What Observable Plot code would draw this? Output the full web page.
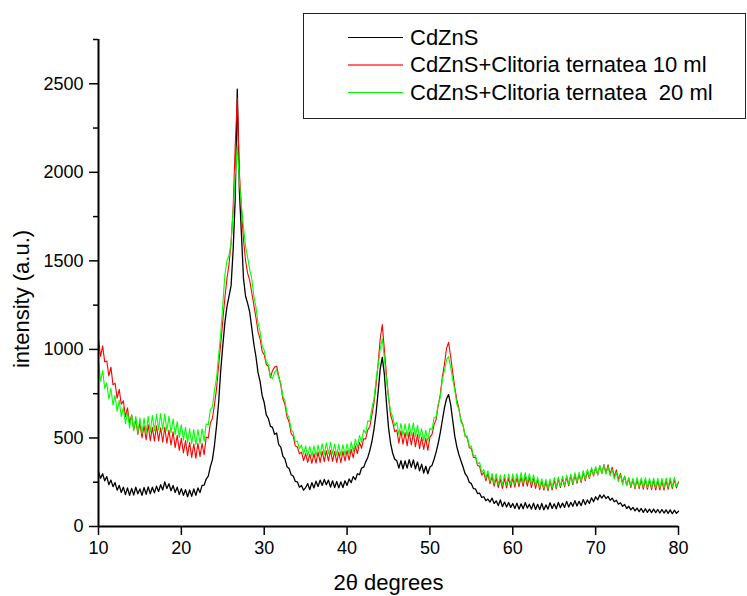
<!DOCTYPE html>
<html><head><meta charset="utf-8">
<script src="https://cdn.jsdelivr.net/npm/d3@7"></script>
<script src="https://cdn.jsdelivr.net/npm/@observablehq/plot@0.6"></script>
<style>
body{margin:0;background:#fff;font-family:"Liberation Sans",Arial,sans-serif;}
#wrap{position:relative;width:747px;height:596px;overflow:hidden;background:#fff;}
#legend{position:absolute;left:303px;top:13px;width:441px;height:104px;border:1.5px solid #222;background:#fff;}
.row{position:absolute;left:0;width:100%;height:0;}
.row .ln{position:absolute;left:44px;width:55px;top:-1px;}
.row span{position:absolute;left:106px;top:-13px;font-size:22px;line-height:26px;white-space:pre;color:#000;}
</style>
</head><body>
<div id="wrap"><div id="chart"></div><div id="legend"></div></div>
<script>
// scan grid: 2θ from 10° to 80° in 0.25° steps (one line = one degree)
const startAngle = 10;
const stepAngle = 0.25;

const cdzns = [
310, 272, 298, 258,
282, 236, 262, 225,
248, 205, 232, 192,
222, 180, 218, 176,
215, 178, 222, 185,
212, 176, 220, 182,
224, 185, 222, 190,
228, 198, 236, 206,
252, 214, 242, 202,
232, 192, 222, 180,
214, 176, 208, 168,
206, 170, 212, 176,
218, 192, 232, 234,
268, 284, 338, 378,
460, 570, 700, 880,
1020, 1150, 1240, 1300,
1360, 1560, 1850, 2470,
1900, 1650, 1400, 1300,
1260, 1210, 1120, 1030,
960, 870, 820, 740,
700, 630, 610, 565,
560, 520, 528, 462,
448, 398, 382, 338,
328, 292, 285, 255,
252, 222, 232, 205,
220, 242, 208, 248,
218, 256, 226, 262,
232, 266, 236, 262,
222, 258, 220, 254,
218, 252, 220, 258,
232, 268, 248, 282,
264, 298, 292, 330,
335, 365, 390, 430,
480, 550, 640, 760,
890, 955, 860, 700,
560, 470, 415, 380,
372, 330, 372, 326,
370, 330, 378, 334,
376, 326, 364, 314,
352, 302, 340, 298,
336, 345, 380, 420,
470, 530, 600, 670,
720, 745, 690, 600,
510, 450, 405, 370,
336, 298, 282, 250,
242, 214, 212, 186,
188, 164, 168, 146,
155, 138, 160, 130,
145, 118, 150, 112,
138, 110, 135, 108,
130, 102, 132, 98,
128, 100, 135, 104,
126, 98, 132, 96,
125, 96, 130, 94,
122, 98, 134, 102,
128, 100, 136, 106,
132, 108, 142, 110,
136, 114, 146, 116,
142, 118, 152, 124,
150, 130, 162, 140,
168, 150, 178, 160,
178, 158, 170, 148,
160, 140, 148, 126,
134, 114, 124, 102,
114, 94, 108, 88,
104, 84, 102, 80,
100, 80, 98, 78,
98, 78, 96, 76,
96, 76, 94, 74,
94, 72, 92, 74,
86
];

const cdznsCt10 = [
1060, 960, 1020, 930,
935, 850, 900, 800,
810, 725, 775, 690,
710, 620, 670, 585,
630, 545, 605, 520,
585, 500, 570, 490,
575, 485, 560, 482,
568, 485, 558, 476,
562, 470, 545, 460,
535, 445, 515, 430,
498, 415, 485, 400,
475, 390, 465, 385,
470, 395, 470, 405,
505, 500, 585, 610,
690, 780, 910, 1030,
1160, 1290, 1400, 1480,
1600, 1800, 2150, 2420,
2000, 1800, 1620, 1500,
1430, 1390, 1320, 1250,
1180, 1100, 1060, 990,
970, 915, 905, 840,
880, 900, 905, 850,
800, 720, 690, 620,
590, 525, 510, 455,
450, 410, 420, 372,
412, 362, 408, 356,
412, 358, 420, 362,
425, 366, 428, 370,
430, 368, 424, 362,
420, 360, 424, 370,
428, 375, 436, 388,
455, 412, 475, 442,
495, 495, 545, 565,
630, 700, 800, 920,
1060, 1140, 1000, 860,
730, 630, 590, 535,
545, 470, 540, 465,
530, 455, 535, 460,
530, 450, 520, 440,
505, 435, 498, 430,
505, 520, 575, 605,
685, 745, 845, 915,
1005, 1040, 960, 870,
785, 715, 665, 600,
570, 510, 500, 445,
440, 390, 390, 345,
340, 290, 305, 258,
298, 242, 282, 228,
275, 220, 268, 215,
272, 218, 275, 220,
275, 222, 278, 225,
280, 226, 284, 228,
278, 220, 272, 215,
262, 208, 255, 205,
252, 202, 256, 206,
262, 214, 270, 220,
272, 224, 280, 230,
288, 236, 292, 244,
295, 248, 305, 258,
312, 270, 325, 285,
332, 290, 342, 300,
350, 302, 348, 296,
335, 282, 320, 266,
300, 246, 285, 232,
272, 220, 265, 212,
265, 214, 262, 210,
262, 210, 260, 208,
260, 206, 258, 206,
258, 206, 260, 210,
262, 214, 265, 218,
250
];

const cdznsCt20 = [
930, 820, 880, 780,
810, 720, 780, 685,
740, 650, 712, 620,
672, 580, 648, 555,
632, 540, 622, 530,
612, 525, 612, 528,
622, 532, 628, 540,
634, 545, 638, 545,
636, 540, 622, 528,
608, 518, 592, 502,
575, 488, 562, 472,
552, 468, 548, 462,
548, 468, 552, 482,
580, 575, 660, 675,
770, 840, 970, 1090,
1250, 1420, 1500, 1530,
1600, 1780, 1980, 2150,
1950, 1810, 1690, 1580,
1520, 1450, 1400, 1300,
1240, 1150, 1100, 1020,
995, 930, 915, 850,
835, 870, 885, 840,
810, 735, 712, 640,
612, 548, 532, 478,
482, 438, 460, 408,
455, 398, 452, 396,
455, 398, 460, 404,
468, 406, 472, 410,
475, 408, 466, 402,
464, 400, 462, 404,
466, 410, 478, 424,
494, 446, 514, 476,
546, 525, 596, 595,
670, 720, 830, 910,
1000, 1060, 950, 830,
730, 650, 622, 568,
588, 518, 582, 514,
580, 508, 582, 512,
585, 508, 572, 498,
552, 484, 545, 480,
555, 545, 615, 620,
690, 730, 830, 880,
940, 960, 900, 830,
770, 690, 660, 590,
572, 508, 512, 452,
455, 396, 402, 352,
362, 304, 322, 272,
315, 254, 300, 242,
298, 236, 290, 232,
294, 234, 296, 236,
298, 238, 300, 240,
304, 244, 305, 246,
298, 238, 292, 234,
278, 220, 270, 216,
266, 212, 268, 216,
276, 222, 280, 228,
284, 230, 290, 238,
296, 244, 304, 250,
306, 256, 316, 266,
322, 276, 334, 290,
338, 292, 346, 300,
346, 296, 338, 286,
322, 268, 306, 254,
292, 238, 282, 230,
278, 226, 272, 220,
278, 222, 274, 222,
276, 220, 272, 218,
274, 220, 272, 218,
272, 218, 274, 222,
276, 224, 278, 226,
255
];

const seriesNames = ["CdZnS", "CdZnS+Clitoria ternatea 10 ml", "CdZnS+Clitoria ternatea  20 ml"];
const seriesColors = ["#000000", "#ff0000", "#00ff00"];
const seriesValues = [cdzns, cdznsCt10, cdznsCt20];

const xTicks = [10, 20, 30, 40, 50, 60, 70, 80];
const yMajorTicks = [0, 500, 1000, 1500, 2000, 2500];
const yMinorTicks = [250, 750, 1250, 1750, 2250, 2750];
const xLabel = "2θ degrees";
const yLabel = "intensity (a.u.)";

const rows = seriesValues.map((vals, s) =>
  vals.map((v, i) => ({angle: startAngle + i * stepAngle, intensity: v, series: seriesNames[s]}))
);

const font = '"Liberation Sans", Arial, sans-serif';

const chart = Plot.plot({
  width: 747,
  height: 596,
  marginLeft: 98,
  marginRight: 69,
  marginTop: 39,
  marginBottom: 70,
  style: {fontFamily: font, fontSize: "18px", color: "#000", background: "#fff", overflow: "visible"},
  x: {domain: [10, 80]},
  y: {domain: [0, 2750]},
  marks: [
    ...rows.map((r, s) => Plot.line(r, {x: "angle", y: "intensity", stroke: seriesColors[s], strokeWidth: s === 0 ? 1.3 : 1.1})),
    Plot.axisX({ticks: xTicks, tickFormat: d => String(d), tickSize: 9, tickPadding: 6, label: null, fontSize: 18, strokeWidth: 1.5}),
    Plot.axisY({ticks: yMajorTicks, tickFormat: d => String(d), tickSize: 9, tickPadding: 6, label: null, fontSize: 18, strokeWidth: 1.5}),
    Plot.axisY({ticks: yMinorTicks, tickSize: 5, text: null, label: null, strokeWidth: 1.5}),
    Plot.ruleX([10], {y1: 0, y2: 2750, strokeWidth: 2}),
    Plot.ruleY([0], {x1: 10, x2: 80, strokeWidth: 2}),
    Plot.text([yLabel], {text: d => d, frameAnchor: "left", textAnchor: "middle", lineAnchor: "middle", dx: -77, dy: 16, rotate: -90, fontSize: 22}),
    Plot.text([xLabel], {text: d => d, frameAnchor: "bottom", textAnchor: "middle", lineAnchor: "middle", dy: 56, fontSize: 22})
  ]
});
document.getElementById("chart").appendChild(chart);

// legend
const legend = document.getElementById("legend");
const legendLineColors = ["#000000", "#ff6a6a", "#00ff00"];
const legendLineHeights = [1, 2, 1];
seriesNames.forEach((name, i) => {
  const row = document.createElement("div");
  row.className = "row";
  row.style.top = [24, 51, 79][i] + "px";
  const ln = document.createElement("div");
  ln.className = "ln";
  ln.style.background = legendLineColors[i];
  ln.style.height = legendLineHeights[i] + "px";
  const sp = document.createElement("span");
  sp.textContent = name;
  row.appendChild(ln);
  row.appendChild(sp);
  legend.appendChild(row);
});
</script>
</body></html>
